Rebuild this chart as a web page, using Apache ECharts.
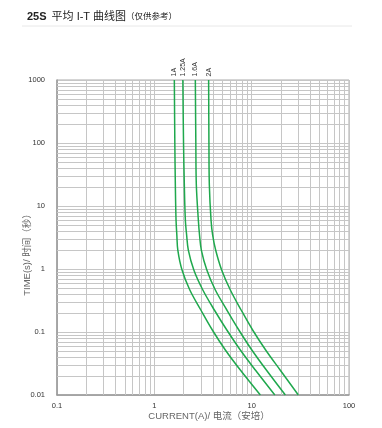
<!DOCTYPE html>
<html>
<head>
<meta charset="utf-8">
<script src="https://cdn.jsdelivr.net/npm/echarts@6/dist/echarts.min.js"></script>
<style>
html,body{margin:0;padding:0;background:#fff;}
#chart{width:382px;height:428px;}
</style>
</head>
<body>
<div id="chart"></div>
<script>
// ---- data ----
var seriesNames = ['1A', '1.25A', '1.6A', '2A'];
var timeSamples = [1000, 100, 21.5, 6.0, 3.47, 2.00, 0.964, 0.464, 0.2235, 0.1076, 0.0518, 0.0249, 0.01];
var curve1A   = [1.605, 1.624, 1.644, 1.671, 1.703, 1.743, 1.926, 2.316, 3.004, 3.944, 5.364, 7.649, 12.28];
var curve125A = [1.963, 1.995, 2.033, 2.083, 2.147, 2.235, 2.546, 3.150, 4.136, 5.557, 7.649, 10.91, 17.30];
var curve16A  = [2.638, 2.669, 2.701, 2.832, 2.913, 3.040, 3.463, 4.234, 5.557, 7.383, 10.04, 14.15, 22.18];
var curve2A   = [3.613, 3.639, 3.674, 3.824, 3.972, 4.265, 4.915, 6.038, 7.795, 10.23, 13.92, 19.61, 30.17];
var xTickLabels = ['0.1', '1', '10', '100'];
var yTickLabels = ['0.01', '0.1', '1', '10', '100', '1000'];
var xDecades = [0.1, 1, 10];
var yDecades = [0.01, 0.1, 1, 10, 100];
var minorSteps = [2, 3, 4, 5, 6, 7, 8, 9];

var FONT = '"Liberation Sans", Arial, "Noto Sans CJK SC", sans-serif';
var GREEN = '#1fa84d';
var GRID = '#c6c6c6';

function labelFor(list) {
  return function (v) {
    var lg = Math.log10(v);
    for (var i = 0; i < list.length; i++) {
      if (Math.abs(Math.log10(parseFloat(list[i])) - lg) < 1e-6) return list[i];
    }
    return '';
  };
}

var minorLines = [];
xDecades.forEach(function (d) { minorSteps.forEach(function (m) { minorLines.push({ xAxis: +(d * m).toPrecision(6) }); }); });
yDecades.forEach(function (d) { minorSteps.forEach(function (m) { minorLines.push({ yAxis: +(d * m).toPrecision(6) }); }); });

var curves = [curve1A, curve125A, curve16A, curve2A];
var series = [{
  type: 'line',
  data: [],
  z: 1,
  silent: true,
  markLine: {
    z: 1,
    silent: true,
    symbol: ['none', 'none'],
    animation: false,
    label: { show: false },
    lineStyle: { color: GRID, width: 1, type: 'solid' },
    emphasis: { disabled: true },
    data: minorLines
  }
}];
curves.forEach(function (c, k) {
  series.push({
    name: seriesNames[k],
    type: 'line',
    z: 5,
    smooth: 0.35,
    symbol: 'none',
    lineStyle: { color: GREEN, width: 1.5 },
    data: c.map(function (I, i) { return [I, timeSamples[i]]; }),
    markPoint: {
      z: 6,
      silent: true,
      animation: false,
      symbol: 'circle',
      symbolSize: 1,
      itemStyle: { color: 'rgba(0,0,0,0)' },
      label: {
        show: true,
        formatter: seriesNames[k],
        position: 'top',
        distance: 3,
        rotate: 90,
        align: 'left',
        verticalAlign: 'middle',
        fontSize: 7,
        fontFamily: FONT,
        color: '#333'
      },
      data: [{ coord: [c[0], timeSamples[0]] }]
    }
  });
});

var chart = echarts.init(document.getElementById('chart'), null, { renderer: 'canvas' });
chart.setOption({
  animation: false,
  backgroundColor: '#fff',
  title: {
    left: 22,
    top: 3,
    text: '{b|25S} {n|平均 I-T 曲线图}{s|（仅供参考）}',
    textStyle: {
      rich: {
        b: { fontSize: 11, fontWeight: 'bold', color: '#222', fontFamily: FONT },
        n: { fontSize: 11, fontWeight: 'normal', color: '#222', fontFamily: FONT },
        s: { fontSize: 8.5, fontWeight: 'normal', color: '#222', fontFamily: FONT }
      }
    }
  },
  graphic: [{
    type: 'line',
    shape: { x1: 22, y1: 26, x2: 352, y2: 26 },
    style: { stroke: '#e8e8e8', lineWidth: 1 }
  }],
  grid: {
    left: 57, right: 33, top: 80, bottom: 33,
    show: true, borderColor: '#aaa', borderWidth: 1
  },
  xAxis: {
    type: 'log', logBase: 10, min: 0.1, max: 100,
    name: 'CURRENT(A)/ 电流（安培）',
    nameLocation: 'middle', nameGap: 17, nameMoveOverlap: false,
    nameTextStyle: { fontSize: 9.5, color: '#666', fontFamily: FONT, padding: [0, 0, 0, 12] },
    axisLine: { show: true, lineStyle: { color: '#999', width: 1.5 } },
    axisTick: { show: false },
    axisLabel: { fontSize: 7.5, color: '#333', margin: 7, fontFamily: FONT, formatter: labelFor(xTickLabels) },
    splitLine: { show: true, lineStyle: { color: GRID, width: 1 } },
    minorTick: { show: false }, minorSplitLine: { show: false }
  },
  yAxis: {
    type: 'log', logBase: 10, min: 0.01, max: 1000,
    name: 'TIME(s)/ 时间（秒）',
    nameLocation: 'middle', nameGap: 25, nameRotate: 90, nameMoveOverlap: false,
    nameTextStyle: { fontSize: 9.5, color: '#666', fontFamily: FONT, padding: [0, 30, 0, 0] },
    axisLine: { show: true, lineStyle: { color: '#999', width: 1.5 } },
    axisTick: { show: false },
    axisLabel: { fontSize: 7.5, color: '#333', margin: 12, fontFamily: FONT, formatter: labelFor(yTickLabels) },
    splitLine: { show: true, lineStyle: { color: GRID, width: 1 } },
    minorTick: { show: false }, minorSplitLine: { show: false }
  },
  series: series
});
</script>
</body>
</html>
